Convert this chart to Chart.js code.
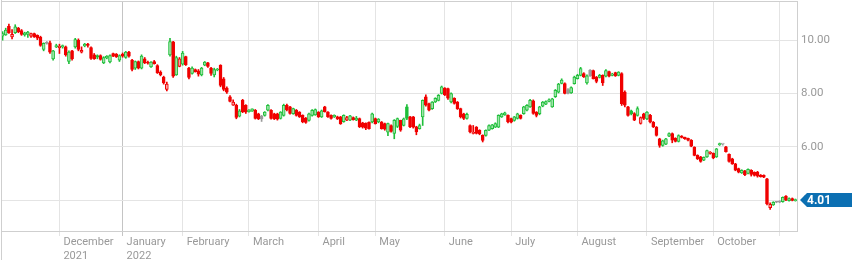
<!DOCTYPE html>
<html>
<head>
<meta charset="utf-8">
<script src="https://cdn.jsdelivr.net/npm/chart.js@4.4.0/dist/chart.umd.min.js"></script>
<style>
  html, body { margin: 0; padding: 0; background: #fff; }
  #wrap { width: 852px; height: 260px; }
</style>
</head>
<body>
<div id="wrap"><canvas id="price-chart" width="852" height="260"></canvas></div>
<script>
/* Daily prices, one entry per trading day (Nov 2021 - Nov 2022) */
let openPrices = [
  10.15, 10.20, 10.52, 10.12, 10.28, 10.45, 10.36, 10.20, 10.22, 10.15,
  10.25, 10.18, 10.12, 9.65, 9.90, 9.90, 9.30, 9.75, 9.72, 9.75,
  9.75, 9.20, 9.60, 9.75, 10.00, 9.55, 9.78, 9.85, 9.72, 9.45,
  9.42, 9.42, 9.15, 9.33, 9.18, 9.50, 9.48, 9.25, 9.48, 9.35,
  9.55, 9.25, 8.95, 9.20, 8.95, 9.30, 9.18, 9.00, 9.20, 9.05,
  8.80, 8.62, 8.15, 9.45, 9.94, 8.70, 9.02, 9.10, 9.38, 8.95,
  8.75, 8.90, 8.85, 8.70, 9.06, 9.15, 8.95, 8.70, 8.88, 9.06,
  8.55, 8.20, 7.87, 7.56, 7.56, 7.15, 7.74, 7.56, 7.32, 7.34,
  7.37, 7.24, 7.15, 7.18, 7.37, 7.37, 7.24, 7.24, 7.06, 7.18,
  7.56, 7.50, 7.24, 7.37, 7.30, 7.18, 7.08, 6.99, 7.18, 7.20,
  7.30, 7.12, 7.50, 7.30, 7.18, 7.12, 7.12, 7.12, 6.94, 7.00,
  7.00, 7.10, 7.00, 7.06, 6.90, 6.88, 6.92, 6.93, 7.06, 6.93,
  6.93, 6.87, 6.55, 6.80, 6.50, 6.76, 6.99, 6.80, 7.50, 7.12,
  7.12, 6.75, 6.68, 7.12, 7.87, 7.62, 7.43, 7.68, 7.74, 8.00,
  8.20, 8.18, 7.68, 7.82, 7.68, 7.43, 7.24, 7.06, 6.80, 6.50,
  6.74, 6.62, 6.43, 6.43, 6.62, 6.68, 6.74, 6.74, 7.12, 7.20,
  7.18, 7.06, 6.99, 7.06, 7.18, 7.24, 7.37, 7.50, 7.72, 7.30,
  7.24, 7.52, 7.60, 7.70, 7.50, 7.88, 8.05, 8.38, 8.37, 8.15,
  8.02, 8.37, 8.56, 8.68, 8.75, 8.40, 8.88, 8.86, 8.62, 8.60,
  8.68, 8.65, 8.82, 8.68, 8.78, 8.68, 8.75, 8.05, 7.50, 7.35,
  7.25, 7.18, 6.88, 7.24, 7.05, 7.18, 6.92, 6.74, 6.30, 6.05,
  6.10, 6.40, 6.50, 6.32, 6.20, 6.40, 6.35, 6.32, 6.25, 5.99,
  5.68, 5.62, 5.50, 5.62, 5.75, 5.75, 5.62, 6.08, 6.10, 6.00,
  5.72, 5.55, 5.36, 5.18, 5.02, 5.10, 5.00, 5.12, 5.04, 5.05,
  4.94, 4.93, 4.80, 3.72, 3.82, 3.93, 3.95, 3.94, 4.15, 3.98,
  4.06, 3.98
]
let highPrices = [
  10.32, 10.45, 10.60, 10.40, 10.58, 10.48, 10.40, 10.30, 10.33, 10.27,
  10.27, 10.20, 10.15, 9.90, 9.95, 9.97, 9.62, 9.85, 9.85, 9.82,
  9.78, 9.60, 9.62, 10.07, 10.05, 9.75, 9.88, 9.88, 9.75, 9.50,
  9.45, 9.45, 9.38, 9.42, 9.45, 9.52, 9.50, 9.45, 9.52, 9.58,
  9.58, 9.28, 9.22, 9.22, 9.45, 9.35, 9.22, 9.20, 9.24, 9.08,
  8.85, 8.65, 8.43, 10.07, 9.96, 9.40, 9.35, 9.58, 9.40, 8.98,
  9.00, 8.92, 8.90, 8.98, 9.20, 9.17, 8.98, 8.95, 8.94, 9.08,
  8.60, 8.25, 7.92, 7.76, 7.60, 7.40, 7.78, 7.58, 7.40, 7.42,
  7.40, 7.26, 7.18, 7.32, 7.58, 7.40, 7.26, 7.26, 7.32, 7.60,
  7.60, 7.52, 7.45, 7.40, 7.32, 7.20, 7.10, 7.26, 7.40, 7.42,
  7.32, 7.38, 7.52, 7.32, 7.20, 7.20, 7.15, 7.14, 7.20, 7.14,
  7.18, 7.12, 7.14, 7.08, 6.92, 6.90, 6.94, 7.26, 7.08, 7.06,
  6.95, 6.89, 6.89, 6.82, 7.02, 7.08, 7.00, 7.08, 7.58, 7.14,
  7.14, 6.77, 6.85, 7.76, 7.95, 7.64, 7.70, 7.84, 7.96, 8.28,
  8.22, 8.20, 8.02, 7.84, 7.70, 7.45, 7.26, 7.26, 6.82, 6.80,
  6.76, 6.64, 6.45, 6.64, 6.82, 6.84, 6.90, 7.20, 7.26, 7.30,
  7.20, 7.08, 7.14, 7.26, 7.20, 7.52, 7.58, 7.78, 7.76, 7.32,
  7.52, 7.70, 7.72, 7.80, 7.82, 8.15, 8.38, 8.55, 8.40, 8.18,
  8.25, 8.65, 8.72, 8.98, 8.78, 8.70, 8.90, 8.88, 8.64, 8.72,
  8.70, 8.90, 8.84, 8.76, 8.80, 8.82, 8.78, 8.10, 7.52, 7.38,
  7.28, 7.50, 7.12, 7.26, 7.32, 7.22, 6.95, 6.76, 6.32, 6.25,
  6.32, 6.52, 6.52, 6.34, 6.45, 6.42, 6.36, 6.33, 6.27, 6.00,
  5.70, 5.64, 5.62, 5.88, 5.82, 5.77, 5.94, 6.14, 6.12, 6.02,
  5.74, 5.57, 5.38, 5.20, 5.14, 5.12, 5.17, 5.14, 5.06, 5.08,
  4.96, 4.95, 4.82, 3.90, 3.94, 3.95, 3.98, 4.12, 4.17, 4.08,
  4.08, 4.04
]
let lowPrices = [
  10.00, 10.18, 10.25, 10.05, 10.25, 10.28, 10.18, 10.15, 10.10, 10.10,
  10.10, 10.02, 9.77, 9.60, 9.85, 9.50, 9.25, 9.72, 9.50, 9.70,
  9.40, 9.12, 9.25, 9.70, 9.60, 9.52, 9.75, 9.74, 9.28, 9.28,
  9.30, 9.25, 9.12, 9.30, 9.15, 9.38, 9.35, 9.20, 9.36, 9.32,
  9.36, 8.85, 8.90, 8.92, 8.92, 9.12, 9.10, 8.98, 9.10, 8.75,
  8.66, 8.35, 8.10, 9.40, 8.60, 8.68, 9.00, 9.06, 9.05, 8.55,
  8.72, 8.80, 8.65, 8.66, 9.04, 8.98, 8.68, 8.62, 8.85, 8.25,
  8.10, 8.00, 7.68, 7.55, 7.05, 7.12, 7.28, 7.25, 7.30, 7.33,
  7.04, 7.02, 6.95, 7.15, 7.35, 7.04, 7.02, 7.00, 7.04, 7.15,
  7.35, 7.22, 7.22, 7.15, 7.10, 6.90, 6.88, 6.96, 7.15, 7.18,
  7.10, 7.10, 7.30, 7.10, 7.04, 7.10, 7.02, 6.84, 6.92, 6.98,
  6.98, 7.00, 6.98, 6.72, 6.70, 6.64, 6.66, 6.90, 6.85, 6.90,
  6.66, 6.62, 6.42, 6.55, 6.30, 6.72, 6.58, 6.78, 7.02, 6.72,
  6.70, 6.45, 6.66, 6.80, 7.52, 7.35, 7.40, 7.66, 7.72, 7.98,
  7.92, 7.78, 7.65, 7.60, 7.40, 7.08, 7.02, 7.04, 6.52, 6.48,
  6.48, 6.45, 6.18, 6.40, 6.60, 6.66, 6.72, 6.72, 7.10, 7.18,
  6.90, 6.90, 6.96, 7.04, 7.04, 7.22, 7.35, 7.48, 7.22, 7.12,
  7.20, 7.50, 7.58, 7.68, 7.48, 7.85, 8.02, 8.36, 7.98, 7.98,
  8.00, 8.35, 8.54, 8.66, 8.60, 8.35, 8.64, 8.54, 8.40, 8.58,
  8.30, 8.62, 8.62, 8.66, 8.64, 8.66, 7.55, 7.50, 7.15, 7.20,
  6.98, 7.15, 6.85, 7.02, 7.02, 6.90, 6.72, 6.40, 5.98, 6.02,
  6.08, 6.38, 6.15, 6.18, 6.18, 6.33, 6.28, 6.22, 6.00, 5.66,
  5.52, 5.42, 5.48, 5.60, 5.72, 5.55, 5.60, 6.05, 6.06, 5.80,
  5.42, 5.34, 5.10, 5.02, 5.00, 4.92, 4.98, 4.90, 4.90, 4.86,
  4.86, 4.84, 3.82, 3.65, 3.80, 3.90, 3.90, 3.92, 3.98, 3.96,
  3.97, 3.96
]
let closePrices = [
  10.25, 10.38, 10.28, 10.22, 10.50, 10.32, 10.22, 10.28, 10.30, 10.25,
  10.12, 10.08, 9.80, 9.88, 9.88, 9.55, 9.60, 9.80, 9.78, 9.80,
  9.45, 9.55, 9.30, 10.02, 9.65, 9.62, 9.85, 9.80, 9.32, 9.30,
  9.36, 9.28, 9.35, 9.40, 9.42, 9.40, 9.38, 9.42, 9.40, 9.55,
  9.40, 8.90, 9.20, 8.95, 9.40, 9.15, 9.14, 9.18, 9.12, 8.78,
  8.70, 8.40, 8.35, 9.95, 8.65, 9.35, 9.30, 9.52, 9.08, 8.60,
  8.95, 8.82, 8.72, 8.95, 9.18, 9.02, 8.75, 8.90, 8.91, 8.30,
  8.15, 8.05, 7.70, 7.68, 7.10, 7.35, 7.32, 7.30, 7.38, 7.42,
  7.06, 7.05, 7.05, 7.30, 7.56, 7.06, 7.05, 7.04, 7.30, 7.56,
  7.38, 7.25, 7.43, 7.18, 7.12, 6.93, 6.91, 7.24, 7.37, 7.40,
  7.12, 7.35, 7.32, 7.12, 7.06, 7.18, 7.05, 6.87, 7.18, 7.10,
  7.16, 7.02, 7.08, 6.75, 6.74, 6.70, 6.68, 7.24, 6.87, 7.04,
  6.68, 6.66, 6.87, 6.58, 6.99, 7.06, 6.62, 7.05, 7.06, 6.75,
  6.74, 6.56, 6.80, 7.74, 7.56, 7.37, 7.68, 7.82, 7.93, 8.25,
  7.95, 7.82, 8.00, 7.63, 7.43, 7.12, 7.06, 7.22, 6.56, 6.54,
  6.50, 6.48, 6.24, 6.62, 6.80, 6.82, 6.87, 7.18, 7.24, 7.27,
  6.93, 6.92, 7.12, 7.24, 7.06, 7.50, 7.56, 7.74, 7.25, 7.18,
  7.50, 7.68, 7.70, 7.76, 7.80, 8.12, 8.35, 8.50, 8.00, 8.00,
  8.22, 8.62, 8.68, 8.93, 8.62, 8.66, 8.66, 8.56, 8.45, 8.68,
  8.40, 8.86, 8.65, 8.73, 8.66, 8.80, 7.62, 7.56, 7.18, 7.24,
  7.00, 7.43, 7.10, 7.06, 7.30, 6.93, 6.75, 6.43, 6.05, 6.22,
  6.30, 6.50, 6.25, 6.20, 6.42, 6.35, 6.30, 6.25, 6.02, 5.68,
  5.55, 5.45, 5.60, 5.86, 5.80, 5.58, 5.92, 6.10, 6.10, 5.82,
  5.45, 5.36, 5.12, 5.05, 5.12, 4.95, 5.15, 4.96, 4.93, 4.90,
  4.88, 4.86, 3.86, 3.84, 3.92, 3.92, 3.92, 4.10, 4.00, 4.06,
  3.99, 4.01
]

/* Month ticks on the time axis (index of first trading day) */
let monthTickIndex = [18, 38, 57, 78, 100, 118, 140, 161, 182, 204, 225, 246]
let monthTickLabels = [
  ['December', '2021'], ['January', '2022'], 'February', 'March', 'April',
  'May', 'June', 'July', 'August', 'September', 'October', ''
]
let yearTickIndex = 38

/* Price axis ticks */
let priceTicks = [4, 6, 8, 10]

let upColor = '#1fbf3a'
let downColor = '#f00000'
let flatColor = '#9a9a9a'
// lighter fill for hollow bodies
let upTint = '#9fe3aa'
let downTint = '#f9a3a3'
let flatTint = '#d6d6d6'

// Categories are just the day number
let dayLabels = closePrices.map((c, i) => i)

// Hollow candles: colour from the previous close, filled when close < open
let candleColors = []
let bodyFills = []
closePrices.forEach(function(close, i) {
    let prev = i == 0 ? openPrices[0] : closePrices[i - 1]
    let color = upColor
    let tint = upTint
    if (close < prev) {
        color = downColor
        tint = downTint
    } else if (close == prev) {
        color = flatColor
        tint = flatTint
    }
    candleColors.push(color)
    bodyFills.push(close < openPrices[i] ? color : tint)
})

let wickData = closePrices.map((c, i) => [lowPrices[i], highPrices[i]])
let bodyData = closePrices.map((c, i) => [openPrices[i], c])

/* Frame lines and the last price tag */
let framePlugin = {
    id: 'frame',
    afterDraw(chart) {
        let ctx = chart.ctx
        let area = chart.chartArea
        ctx.save()
        ctx.strokeStyle = '#cfcfcf'
        ctx.lineWidth = 1
        ctx.beginPath()
        ctx.moveTo(area.left + 0.5, 0)
        ctx.lineTo(area.left + 0.5, chart.height)
        ctx.moveTo(area.left, area.top + 0.5)
        ctx.lineTo(area.right, area.top + 0.5)
        ctx.stroke()

        let last = closePrices[closePrices.length - 1]
        let y = Math.round(chart.scales.y.getPixelForValue(last))
        let x = area.right + 3
        ctx.fillStyle = '#0b6fb2'
        ctx.beginPath()
        ctx.moveTo(x, y)
        ctx.lineTo(x + 7, y - 7)
        ctx.lineTo(chart.width, y - 7)
        ctx.lineTo(chart.width, y + 7)
        ctx.lineTo(x + 7, y + 7)
        ctx.closePath()
        ctx.fill()
        ctx.fillStyle = '#ffffff'
        ctx.font = 'bold 12px Roboto'
        ctx.textBaseline = 'middle'
        ctx.textAlign = 'left'
        ctx.fillText(last.toFixed(2), x + 7, y + 1)
        ctx.restore()
    }
}

let chartCanvas = document.querySelector('#price-chart')
let ctx = chartCanvas.getContext('2d')

let priceChart = new Chart(ctx, {
    type: 'bar',
    data: {
        labels: dayLabels,
        datasets: [
            {
                data: bodyData,
                backgroundColor: bodyFills,
                borderColor: candleColors,
                borderWidth: 1,
                borderSkipped: false,
                barThickness: 3,
                minBarLength: 1,
                grouped: false,
                order: 0
            },
            {
                data: wickData,
                backgroundColor: candleColors,
                borderWidth: 0,
                barThickness: 1,
                grouped: false,
                order: 1
            }
        ]
    },
    options: {
        responsive: false,
        devicePixelRatio: 1,
        animation: false,
        layout: { padding: { left: 1, top: 1, right: 0, bottom: 0 } },
        plugins: {
            legend: { display: false },
            tooltip: { enabled: false }
        },
        scales: {
            x: {
                grid: {
                    offset: false,
                    tickLength: 5,
                    color: (c) => (c.tick && c.tick.value === yearTickIndex) ? '#c4c4c4' : '#e4e4e4'
                },
                border: { color: '#cfcfcf' },
                afterBuildTicks: function(scale) {
                    scale.ticks = monthTickIndex.map(v => ({ value: v }))
                },
                afterFit: function(scale) {
                    scale.height = 29
                    scale.paddingLeft = 0
                    scale.paddingRight = 0
                },
                ticks: {
                    autoSkip: false,
                    maxRotation: 0,
                    minRotation: 0,
                    align: 'start',
                    labelOffset: 4,
                    padding: 0,
                    color: '#999999',
                    font: { family: 'Roboto', size: 11, lineHeight: 1.2 },
                    callback: function(value) {
                        let i = monthTickIndex.indexOf(value)
                        return i < 0 ? '' : monthTickLabels[i]
                    }
                }
            },
            y: {
                position: 'right',
                min: 2.84,
                max: 11.47,
                grid: { color: '#e4e4e4', drawTicks: false },
                border: { color: '#cfcfcf' },
                afterBuildTicks: function(scale) {
                    scale.ticks = priceTicks.map(v => ({ value: v }))
                },
                afterFit: function(scale) {
                    scale.width = 55
                    scale.paddingTop = 0
                    scale.paddingBottom = 0
                },
                ticks: {
                    padding: 4,
                    color: '#999999',
                    font: { family: 'Roboto', size: 11.5 },
                    callback: (v) => v.toFixed(2)
                }
            }
        }
    },
    plugins: [framePlugin]
})
</script>
</body>
</html>
